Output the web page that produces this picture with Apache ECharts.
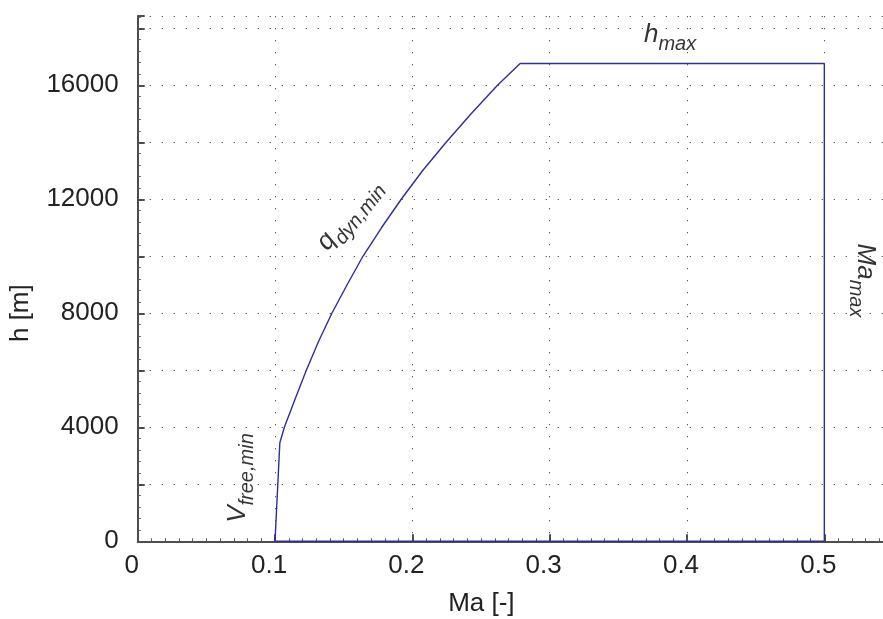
<!DOCTYPE html>
<html>
<head>
<meta charset="utf-8">
<script src="https://cdn.jsdelivr.net/npm/echarts@6/dist/echarts.min.js"></script>
<style>
  html, body { margin: 0; padding: 0; background: #fff; }
  #chart { width: 883px; height: 619px; }
</style>
</head>
<body>
<div id="chart"></div>
<script>
// Flight envelope boundary: Mach number [-] against altitude [m], traced as a closed outline
const machPts = [0.100, 0.1035, 0.1068, 0.1147, 0.1228, 0.1316, 0.1414, 0.1525, 0.1640, 0.1775, 0.1919, 0.2074, 0.2246, 0.2428, 0.2620, 0.2785, 0.500, 0.500, 0.100];
const altPts  = [0, 3460, 4000, 5000, 6000, 7000, 8000, 9000, 10000, 11000, 12000, 13000, 14000, 15000, 16000, 16764, 16764, 0, 0];

// Boundary names, with the data position where each one is written
const boundNames  = ['h', 'q', 'V', 'Ma'];
const boundSubs   = ['max', 'dyn,min', 'free,min', 'max'];
const boundMach   = [0.3877, 0.1555, 0.0753, 0.5275];
const boundAlt    = [17660, 11400, 2220, 9150];
const boundRotate = [0, 51, 90, -90];

// Axis ticks and titles
const xTitle = 'Ma [-]';
const yTitle = 'h [m]';
const yLabelStep = 4000;

const FONT = '"Liberation Sans", Arial, Helvetica, sans-serif';
const LINE = '#2e2e98';
const AXIS = '#4d4d4d';
const GRID = '#5a5a5a';

const envelope = machPts.map((m, i) => [m, altPts[i]]);

const annotations = boundNames.map((n, i) => ({
  value: [boundMach[i], boundAlt[i]],
  label: {
    show: true,
    position: 'inside',
    rotate: boundRotate[i],
    align: 'center',
    verticalAlign: 'middle',
    formatter: '{m|' + n + '}{s|' + boundSubs[i] + '}',
    rich: {
      m: { fontFamily: FONT, fontStyle: 'italic', fontSize: 26, color: '#000', verticalAlign: 'bottom', padding: [0, 0, 7, 0] },
      s: { fontFamily: FONT, fontStyle: 'italic', fontSize: 20, color: '#000', verticalAlign: 'bottom' }
    }
  }
}));

const chart = echarts.init(document.getElementById('chart'), null, { renderer: 'canvas' });

chart.setOption({
  animation: false,
  backgroundColor: '#fff',
  grid: { left: 137.7, top: 16, right: -10, bottom: 77.7, containLabel: false, outerBoundsMode: 'none' },
  xAxis: {
    type: 'value',
    min: 0,
    max: 0.55,
    interval: 0.1,
    name: xTitle,
    nameLocation: 'middle',
    nameGap: 50,
    nameTextStyle: { fontFamily: FONT, fontSize: 26, color: '#222', padding: [0, 68, 0, 0] },
    axisLine: { show: true, lineStyle: { color: AXIS, width: 2 } },
    axisTick: { show: true, inside: true, length: 7, lineStyle: { color: AXIS, width: 2 } },
    minorTick: { show: true, splitNumber: 10, length: 3, lineStyle: { color: GRID, width: 1 } },
    axisLabel: {
      fontFamily: FONT, fontSize: 26, color: '#222', margin: 12, padding: [0, 12, 0, 0],
      formatter: v => {
        const r = Math.round(v * 10) / 10;
        return Math.abs(v - r) < 1e-9 && r <= 0.5 ? (r === 0 ? '0' : String(r)) : '';
      }
    },
    splitLine: { show: true, lineStyle: { color: GRID, width: 1, type: [1.3, 10.7] } }
  },
  yAxis: {
    type: 'value',
    min: 0,
    max: 18430,
    interval: 2000,
    name: yTitle,
    nameLocation: 'middle',
    nameGap: 104,
    nameRotate: 90,
    nameTextStyle: { fontFamily: FONT, fontSize: 26, color: '#222', padding: [0, 69, 0, 0] },
    axisLine: { show: true, lineStyle: { color: AXIS, width: 2 } },
    axisTick: { show: true, inside: true, length: 7, lineStyle: { color: AXIS, width: 2 } },
    minorTick: { show: true, splitNumber: 5, length: 3, lineStyle: { color: GRID, width: 1 } },
    axisLabel: {
      fontFamily: FONT, fontSize: 26, color: '#222', margin: 19,
      formatter: v => (v % yLabelStep === 0 ? String(v) : '')
    },
    splitLine: { show: true, lineStyle: { color: GRID, width: 1, type: [1.3, 10.7] } }
  },
  series: [
    {
      name: 'envelope',
      type: 'line',
      data: envelope,
      showSymbol: false,
      clip: false,
      z: 5,
      lineStyle: { color: LINE, width: 1.4 }
    },
    {
      name: 'bounds',
      type: 'scatter',
      symbolSize: 0,
      data: annotations,
      z: 6
    }
  ]
});
</script>
</body>
</html>
